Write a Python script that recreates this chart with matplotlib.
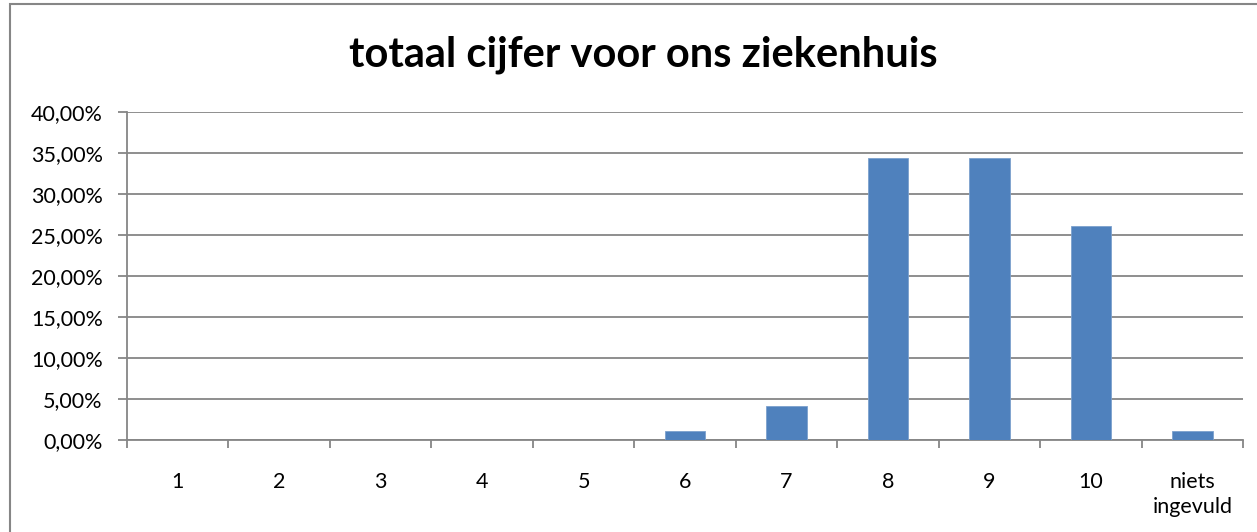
import matplotlib
matplotlib.use("Agg")
import numpy as np
import matplotlib.pyplot as plt
from matplotlib.patches import Rectangle

# data
categories = ["1", "2", "3", "4", "5", "6", "7", "8", "9", "10", "niets\ningevuld"]
values = [0, 0, 0, 0, 0, 1.04, 4.17, 34.38, 34.38, 26.04, 1.04]
yticks = [0, 5, 10, 15, 20, 25, 30, 35, 40]

W, H = 1257, 532
fig = plt.figure(figsize=(W / 100, H / 100), dpi=100)
plt.rcParams['font.family'] = ['Lato', 'DejaVu Sans']

# outer chart border (cut off at right and bottom like the screenshot)
fig.patches.append(Rectangle((10 / W, -0.05), 1.1, (H - 4) / H + 0.05,
                             transform=fig.transFigure, fill=False,
                             edgecolor='#868686', linewidth=1.5))

left, right, top, bottom = 127, 1243, 112, 440
ax = fig.add_axes([left / W, 1 - bottom / H, (right - left) / W, (bottom - top) / H])

x = np.arange(len(categories))
ax.bar(x, values, width=0.4, color='#4f81bd', edgecolor='#7ba0cd', linewidth=0.6, zorder=3)

ax.set_xlim(-0.5, len(categories) - 0.5)
ax.set_ylim(0, 40)
ax.set_yticks(yticks)
ax.set_yticklabels([f"{v:.2f}".replace(".", ",") + "%" for v in yticks], fontsize=15.5)
ax.yaxis.grid(True, color='#868686', linewidth=1.3, zorder=0)

ax.set_xticks(x)
ax.set_xticklabels(categories, fontsize=15.5, linespacing=1.3)
ax.set_xticks(np.arange(-0.5, len(categories)), minor=True)
ax.tick_params(axis='x', which='major', length=0, pad=23)
ax.tick_params(axis='x', which='minor', length=6, color='#868686', width=1.3)
ax.tick_params(axis='y', length=6.5, color='#868686', width=1.3, pad=11)

for s in ['top', 'right']:
    ax.spines[s].set_visible(False)
for s in ['left', 'bottom']:
    ax.spines[s].set_color('#868686')
    ax.spines[s].set_linewidth(1.3)

fig.text(643 / W, 1 - 55 / H, "totaal cijfer voor ons ziekenhuis",
         ha='center', va='center', fontsize=30, fontweight='bold')

fig.savefig("out.png", dpi=100)
